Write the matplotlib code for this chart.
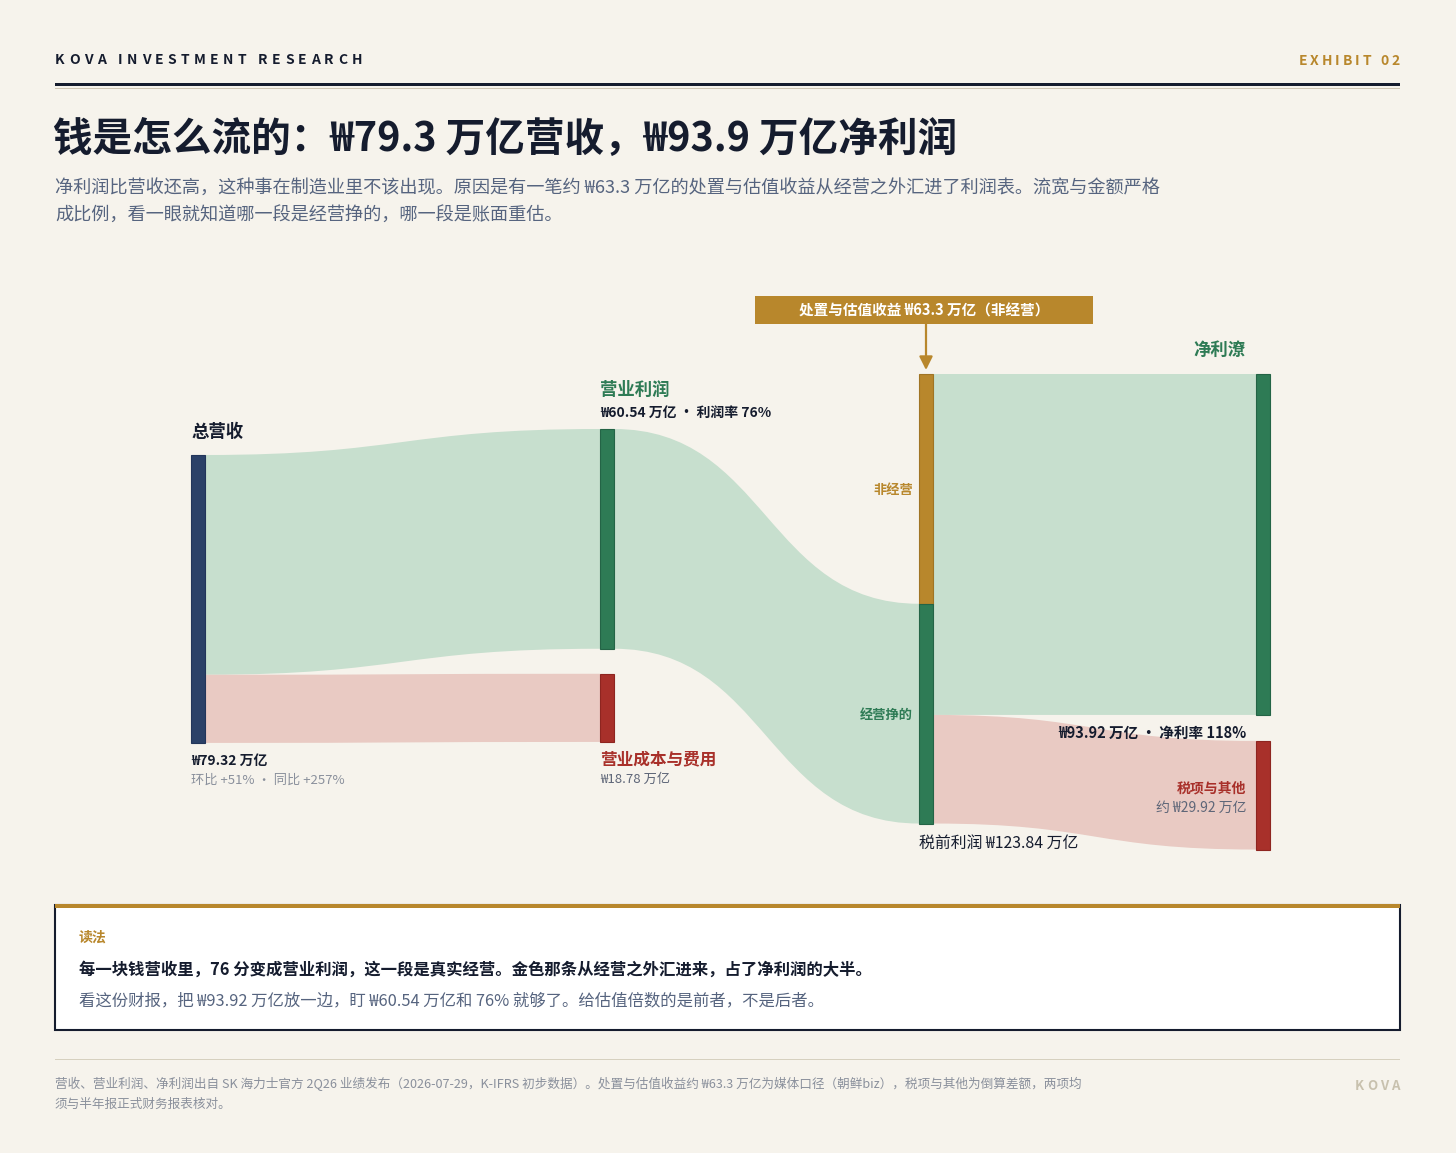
import matplotlib
matplotlib.use("Agg")
import matplotlib.pyplot as plt
from matplotlib.patches import Rectangle, PathPatch
from matplotlib.path import Path

plt.rcParams['font.family'] = ['Noto Sans CJK SC', 'DejaVu Sans']

# values in 万亿 KRW
revenue = 79.32
op_profit = 60.54
op_cost = 18.78
non_op = 63.3
pretax = 123.84
net_profit = 93.92
tax_other = 29.92

BG = "#F6F3EC"
INK = "#151C2E"
SLATE = "#56647F"
GREY = "#8A909C"
NAVY = "#2B4168"
GREEN = "#2E7B55"
RED = "#A8302A"
GOLD = "#B8872C"
FLOW_G = "#C7DFCE"
FLOW_R = "#E9CAC3"

W, H = 1456, 1153
fig = plt.figure(figsize=(W / 100, H / 100), dpi=100, facecolor=BG)
ax = fig.add_axes([0, 0, 1, 1])
ax.set_xlim(0, W)
ax.set_ylim(H, 0)
ax.axis("off")
renderer = fig.canvas.get_renderer()


def spaced(x, y, s, gap, ha="left", **kw):
    # letter-spaced text, drawn char by char
    widths = []
    for ch in s:
        t = ax.text(0, 0, ch, **kw)
        widths.append(t.get_window_extent(renderer).width)
        t.remove()
    total = sum(widths) + gap * (len(s) - 1)
    cx = x - total if ha == "right" else x
    for ch, w in zip(s, widths):
        ax.text(cx, y, ch, ha="left", va="center", **kw)
        cx += w + gap


# header
spaced(55, 60, "KOVA INVESTMENT RESEARCH", 4.4, fontsize=10, fontweight="bold", color=INK)
spaced(1400, 61, "EXHIBIT 02", 3.0, ha="right", fontsize=10, fontweight="bold", color=GOLD)
ax.add_patch(Rectangle((55, 82.5), 1345, 3, color=INK, lw=0))
ax.add_patch(Rectangle((55, 88), 1345, 1, color="#CFC6B4", lw=0))

ax.text(53, 139, "钱是怎么流的：₩79.3 万亿营收，₩93.9 万亿净利润", fontsize=28.5,
        fontweight="bold", color=INK, va="center", ha="left")
ax.text(55, 188, "净利润比营收还高，这种事在制造业里不该出现。原因是有一笔约 ₩63.3 万亿的处置与估值收益从经营之外汇进了利润表。流宽与金额严格",
        fontsize=13.1, color=SLATE, va="center")
ax.text(55, 216, "成比例，看一眼就知道哪一段是经营挣的，哪一段是账面重估。",
        fontsize=13.1, color=SLATE, va="center")

# sankey layout
s = 3.63            # px per 万亿
nw = 14             # node width
cols = [191, 600, 919, 1256]
rev_top = 455
op_top = 429
cost_top = op_top + op_profit * s + 25
pre_top = 374
net_top = 374
tax_top = net_top + net_profit * s + 26


def flow(x0, s0, s1, x1, t0, t1, color):
    xm = (x0 + x1) / 2
    verts = [(x0, s0), (xm, s0), (xm, t0), (x1, t0),
             (x1, t1), (xm, t1), (xm, s1), (x0, s1), (x0, s0)]
    codes = [Path.MOVETO, Path.CURVE4, Path.CURVE4, Path.CURVE4,
             Path.LINETO, Path.CURVE4, Path.CURVE4, Path.CURVE4, Path.CLOSEPOLY]
    ax.add_patch(PathPatch(Path(verts, codes), facecolor=color, edgecolor="none", lw=0))


def node(x, top, value, color, edge):
    ax.add_patch(Rectangle((x, top), nw, value * s, facecolor=color, edgecolor=edge, lw=0.8))


# flows
flow(cols[0] + nw, rev_top, rev_top + op_profit * s, cols[1], op_top, op_top + op_profit * s, FLOW_G)
flow(cols[0] + nw, rev_top + op_profit * s, rev_top + revenue * s, cols[1],
     cost_top, cost_top + op_cost * s, FLOW_R)
flow(cols[1] + nw, op_top, op_top + op_profit * s, cols[2],
     pre_top + non_op * s, pre_top + pretax * s, FLOW_G)
flow(cols[2] + nw, pre_top, pre_top + net_profit * s, cols[3], net_top, net_top + net_profit * s, FLOW_G)
flow(cols[2] + nw, pre_top + net_profit * s, pre_top + pretax * s, cols[3],
     tax_top, tax_top + tax_other * s, FLOW_R)

# nodes
node(cols[0], rev_top, revenue, NAVY, "#22355A")
node(cols[1], op_top, op_profit, GREEN, "#246446")
node(cols[1], cost_top, op_cost, RED, "#8E2520")
node(cols[2], pre_top, non_op, GOLD, "#A07424")
node(cols[2], pre_top + non_op * s, op_profit, GREEN, "#246446")
node(cols[3], net_top, net_profit, GREEN, "#246446")
node(cols[3], tax_top, tax_other, RED, "#8E2520")

# node labels
ax.text(191, 432, "总营收", fontsize=12.5, color=INK, fontweight="semibold", va="center")
ax.text(191, 761, f"₩{revenue:.2f} 万亿", fontsize=10, color=INK, fontweight="bold", va="center")
ax.text(191, 780, "环比 +51% · 同比 +257%", fontsize=9.5, color=GREY, va="center")

ax.text(600, 390, "营业利润", fontsize=12.5, color=GREEN, fontweight="semibold", va="center")
ax.text(600, 413, f"₩{op_profit:.2f} 万亿 · 利润率 76%", fontsize=10, color=INK,
        fontweight="bold", va="center")
ax.text(600, 759, "营业成本与费用", fontsize=12, color=RED, fontweight="semibold", va="center")
ax.text(600, 779, f"₩{op_cost:.2f} 万亿", fontsize=9.5, color="#5E6678", va="center")

ax.text(913, 490, "非经营", fontsize=9.5, color=GOLD, fontweight="bold", va="center", ha="right")
ax.text(913, 715, "经营挣的", fontsize=9.5, color=GREEN, fontweight="bold", va="center", ha="right")
ax.text(919, 843, f"税前利润 ₩{pretax:.2f} 万亿", fontsize=11.4, color=INK, va="center")

ax.text(1246, 350, "净利潦", fontsize=12.5, color=GREEN, fontweight="semibold", va="center", ha="right")
ax.text(1246, 733, f"₩{net_profit:.2f} 万亿 · 净利率 118%", fontsize=10.5, color=INK,
        fontweight="bold", va="center", ha="right")
ax.text(1246, 788, "税项与其他", fontsize=10, color=RED, fontweight="bold", va="center", ha="right")
ax.text(1246, 808, f"约 ₩{tax_other:.2f} 万亿", fontsize=10, color="#5E6678", va="center", ha="right")

# non-operating callout
ax.add_patch(Rectangle((755, 296), 338, 28, facecolor=GOLD, edgecolor="none"))
ax.text(924, 311, f"处置与估值收益 ₩{non_op:.1f} 万亿（非经营）", fontsize=10.5, color="white",
        fontweight="bold", va="center", ha="center")
ax.annotate("", xy=(926, 370), xytext=(926, 324),
            arrowprops=dict(arrowstyle="-|>", color=GOLD, lw=1.6, mutation_scale=20,
                            shrinkA=0, shrinkB=0))

# reading box
ax.add_patch(Rectangle((55, 905), 1345, 125, facecolor="white", edgecolor=INK, lw=1.5))
ax.add_patch(Rectangle((55, 904), 1345, 4, facecolor=GOLD, edgecolor="none"))
ax.text(79, 938, "读法", fontsize=10, color=GOLD, fontweight="bold", va="center")
ax.text(79, 970, "每一块钱营收里，76 分变成营业利润，这一段是真实经营。金色那条从经营之外汇进来，占了净利润的大半。",
        fontsize=11.8, color=INK, fontweight="bold", va="center")
ax.text(79, 1001, f"看这份财报，把 ₩{net_profit:.2f} 万亿放一边，盯 ₩{op_profit:.2f} 万亿和 76% 就够了。给估值倍数的是前者，不是后者。",
        fontsize=11.8, color=SLATE, va="center")

# footer
ax.add_patch(Rectangle((55, 1059), 1345, 1, color="#D6D0BF", lw=0))
ax.text(55, 1084, "营收、营业利润、净利润出自 SK 海力士官方 2Q26 业绩发布（2026-07-29，K-IFRS 初步数据）。处置与估值收益约 ₩63.3 万亿为媒体口径（朝鲜biz），税项与其他为倒算差额，两项均",
        fontsize=9.1, color=GREY, va="center")
ax.text(55, 1104, "须与半年报正式财务报表核对。", fontsize=9.1, color=GREY, va="center")
spaced(1400, 1086, "KOVA", 3.0, ha="right", fontsize=9.5, fontweight="bold", color="#C8C1AE")

fig.savefig("out.png", dpi=100, facecolor=BG)
